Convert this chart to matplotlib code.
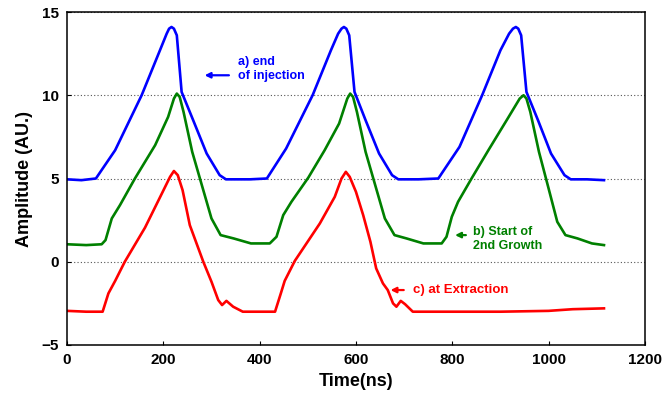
import matplotlib
matplotlib.use("Agg")
import matplotlib.pyplot as plt

# breakpoints (time in ns, amplitude in AU)
t_inj = [0, 30, 60, 100, 155, 193, 207, 212, 217, 222, 228, 238, 262, 290, 317, 330,
         380, 415, 455, 510, 548, 563, 570, 575, 580, 586, 597, 620, 648, 675, 688,
         730, 771, 815, 862, 900, 918, 926, 932, 937, 943, 954, 978, 1005, 1033, 1046,
         1080, 1115]
a_inj = [4.95, 4.9, 5.0, 6.7, 10.0, 12.7, 13.7, 14.0, 14.1, 14.0, 13.6, 10.2, 8.5, 6.5, 5.2, 4.95,
         4.95, 5.0, 6.8, 10.0, 12.7, 13.7, 14.0, 14.1, 14.0, 13.6, 10.2, 8.5, 6.5, 5.2, 4.95,
         4.95, 5.0, 6.9, 10.0, 12.7, 13.7, 14.0, 14.1, 14.0, 13.6, 10.2, 8.5, 6.5, 5.2, 4.95,
         4.95, 4.9]

t_grow = [0, 40, 72, 80, 93, 110, 141, 183, 210, 222, 228, 234, 242, 260, 282, 300, 319, 346, 382,
          421, 435, 449, 466, 501, 535, 565, 582, 588, 594, 602, 620, 642, 660, 680, 705, 740,
          778, 788, 799, 812, 840, 875, 915, 940, 948, 954, 962, 980, 1000, 1018, 1035, 1060, 1090,
          1115]
a_grow = [1.05, 1.0, 1.05, 1.3, 2.6, 3.4, 5.0, 7.0, 8.7, 9.8, 10.1, 9.9, 9.0, 6.6, 4.4, 2.6, 1.6, 1.4, 1.1,
          1.1, 1.5, 2.8, 3.6, 5.05, 6.7, 8.3, 9.8, 10.1, 9.9, 9.0, 6.6, 4.4, 2.6, 1.6, 1.4, 1.1,
          1.1, 1.5, 2.7, 3.6, 5.0, 6.7, 8.6, 9.8, 10.0, 9.8, 9.0, 6.6, 4.4, 2.4, 1.6, 1.4, 1.1,
          1.0]

t_ext = [0, 40, 74, 86, 100, 120, 162, 197, 214, 222, 230, 240, 255, 283, 300, 314, 322, 331, 345,
         365, 432, 444, 452, 473, 525, 556, 570, 579, 587, 600, 615, 630, 642, 656, 666, 677, 684,
         693, 702, 718, 800, 900, 1000, 1050, 1115]
a_ext = [-2.95, -3.0, -3.0, -1.9, -1.15, 0.0, 2.05, 4.1, 5.1, 5.45, 5.2, 4.3, 2.2, 0.0, -1.2, -2.3, -2.6, -2.35, -2.7,
         -3.0, -3.0, -1.9, -1.15, 0.05, 2.3, 3.9, 5.0, 5.4, 5.1, 4.2, 2.8, 1.2, -0.4, -1.3, -1.7, -2.5, -2.7,
         -2.35, -2.55, -3.0, -3.0, -3.0, -2.95, -2.85, -2.8]

plt.rcParams["font.family"] = ["Liberation Sans", "DejaVu Sans"]
plt.rcParams["font.weight"] = "bold"

fig = plt.figure(figsize=(6.72, 3.95), dpi=100)
ax = fig.add_axes([0.0997, 0.1266, 0.860, 0.843])

ax.plot(t_inj, a_inj, color="#0000ff", lw=1.9)
ax.plot(t_grow, a_grow, color="#008000", lw=1.9)
ax.plot(t_ext, a_ext, color="#ff0000", lw=1.9)

ax.set_xlim(0, 1200)
ax.set_ylim(-5, 15)
ax.set_xticks(range(0, 1201, 200))
ax.set_yticks([-5, 0, 5, 10, 15])
ax.yaxis.grid(True, linestyle=(0, (1, 2)), color="#555555", lw=0.8)
ax.tick_params(direction="in", length=3, labelsize=11, pad=6)
for s in ax.spines.values():
    s.set_linewidth(1.1)

ax.set_xlabel("Time(ns)", fontsize=13, fontweight="bold", labelpad=4)
ax.set_ylabel("Amplitude (AU.)", fontsize=13, fontweight="bold", labelpad=6)

# annotations
ax.annotate("", xy=(280, 11.2), xytext=(342, 11.2),
            arrowprops=dict(arrowstyle="-|>", color="#0000ff", lw=1.6, mutation_scale=8))
ax.text(355, 12.0, "a) end", color="#0000ff", fontsize=9, va="center")
ax.text(355, 11.15, "of injection", color="#0000ff", fontsize=9, va="center")

ax.annotate("", xy=(800, 1.6), xytext=(834, 1.6),
            arrowprops=dict(arrowstyle="-|>", color="#008000", lw=1.6, mutation_scale=8))
ax.text(843, 1.8, "b) Start of", color="#008000", fontsize=9, va="center")
ax.text(843, 0.95, "2nd Growth", color="#008000", fontsize=9, va="center")

ax.annotate("", xy=(666, -1.7), xytext=(705, -1.7),
            arrowprops=dict(arrowstyle="-|>", color="#ff0000", lw=1.6, mutation_scale=8))
ax.text(718, -1.7, "c) at Extraction", color="#ff0000", fontsize=9.5, va="center")

fig.savefig("out.png", dpi=100)
